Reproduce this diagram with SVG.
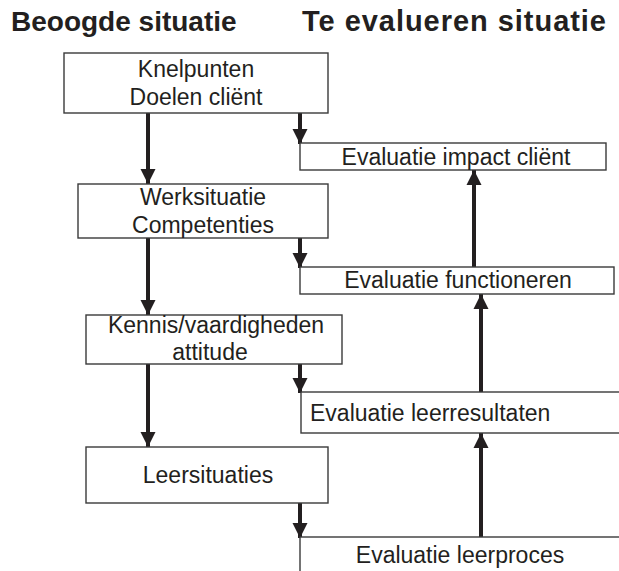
<svg xmlns="http://www.w3.org/2000/svg" width="619" height="571" viewBox="0 0 619 571">
<defs>
<style>
.box{fill:#fff;stroke:#3a3a3a;stroke-width:1.4}
.t{font-family:"Liberation Sans",Arial,sans-serif;font-size:23px;fill:#231f20}
.c{text-anchor:middle}
.h{font-family:"Liberation Sans",Arial,sans-serif;font-size:28px;font-weight:bold;fill:#231f20}
.ln{stroke:#231f20;stroke-width:4;fill:none}
</style>
<marker id="ah" viewBox="0 0 10 10" refX="10" refY="5" markerWidth="3.8" markerHeight="3.8" markerUnits="strokeWidth" orient="auto">
<path d="M0,0 L10,5 L0,10 Z" fill="#231f20"/>
</marker>
</defs>
<rect width="619" height="571" fill="#fff"/>
<text class="h" x="11" y="31">Beoogde situatie</text>
<text class="h" x="302" y="31" style="font-size:29px" textLength="304" lengthAdjust="spacing">Te evalueren situatie</text>

<g id="connectors">
<line class="ln" x1="148" y1="113" x2="148" y2="184" marker-end="url(#ah)"/>
<line class="ln" x1="148" y1="238" x2="148" y2="315" marker-end="url(#ah)"/>
<line class="ln" x1="148" y1="364" x2="148" y2="447" marker-end="url(#ah)"/>
<line class="ln" x1="300" y1="113" x2="300" y2="144" marker-end="url(#ah)"/>
<line class="ln" x1="300" y1="238" x2="300" y2="268" marker-end="url(#ah)"/>
<line class="ln" x1="300" y1="364" x2="300" y2="393" marker-end="url(#ah)"/>
<line class="ln" x1="300" y1="503" x2="300" y2="538" marker-end="url(#ah)"/>
<line class="ln" x1="474" y1="267" x2="474" y2="170" marker-end="url(#ah)"/>
<line class="ln" x1="481" y1="392" x2="481" y2="294" marker-end="url(#ah)"/>
<line class="ln" x1="481" y1="537" x2="481" y2="433" marker-end="url(#ah)"/>
</g>

<g id="knelpunten">
<rect class="box" x="64" y="53" width="264" height="60"/>
<text class="t c" x="196" y="77">Knelpunten</text>
<text class="t c" x="196" y="105">Doelen cliënt</text>
</g>
<g id="werksituatie">
<rect class="box" x="78" y="184" width="250" height="54"/>
<text class="t c" x="203" y="205">Werksituatie</text>
<text class="t c" x="203" y="233">Competenties</text>
</g>
<g id="kennis">
<rect class="box" x="86" y="315" width="256" height="49"/>
<text class="t c" x="216" y="333">Kennis/vaardigheden</text>
<text class="t c" x="210" y="360">attitude</text>
</g>
<g id="leersituaties">
<rect class="box" x="86" y="447" width="242" height="56"/>
<text class="t c" x="208" y="483">Leersituaties</text>
</g>
<g id="eval-impact">
<rect class="box" x="300" y="143" width="306" height="27"/>
<text class="t c" x="456" y="165">Evaluatie impact cliënt</text>
</g>
<g id="eval-functioneren">
<rect class="box" x="300" y="267" width="314" height="27"/>
<text class="t c" x="458" y="288">Evaluatie functioneren</text>
</g>
<g id="eval-leerresultaten">
<rect class="box" x="301" y="392" width="340" height="41"/>
<text class="t" x="310" y="421">Evaluatie leerresultaten</text>
</g>
<g id="eval-leerproces">
<rect class="box" x="300" y="537" width="340" height="60"/>
<text class="t c" x="460" y="563">Evaluatie leerproces</text>
</g>
</svg>
